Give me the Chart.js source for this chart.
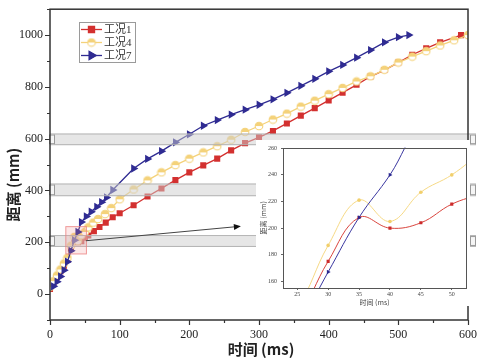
<!DOCTYPE html>
<html><head><meta charset="utf-8">
<script src="https://cdn.jsdelivr.net/npm/chart.js@4/dist/chart.umd.min.js"></script>
<style>
html,body{margin:0;padding:0;background:#fff;}
#wrap{position:relative;width:480px;height:360px;overflow:hidden;}
#main{position:absolute;left:0;top:0;}
#inset{position:absolute;left:256px;top:140px;}
</style></head><body>
<div id="wrap"><canvas id="main" width="480" height="360"></canvas><canvas id="inset" width="214" height="166"></canvas></div>
<script>
// ---------- data ----------
const seriesNames = ['工况1', '工况4', '工况7'];
const timeRed = [0,5,10,15,20,25,30,35,40,45,50,55,63,71,80,90,100,120,140,160,180,200,220,240,260,280,300,320,340,360,380,400,420,440,460,480,500,520,540,560,590];
const distRed = [20,42,65,88,110,132,175,208,200,204,218,226,243,259,276,297,312,343,377,408,440,470,497,523,555,583,605,630,659,689,718,748,778,808,840,865,894,924,949,972,1000];
const timeYellow = [0,5,10,15,20,25,30,35,40,45,50,55,62,69,79,88,100,120,140,160,180,200,220,240,260,280,300,320,340,360,380,400,420,440,460,480,500,520,540,560,580,600];
const distYellow = [28,50,72,95,118,140,187,221,205,227,240,258,276,290,309,332,366,404,439,470,498,523,547,571,596,626,649,674,697,724,747,772,796,821,841,866,894,917,938,960,980,1000];
const timeBlue = [5,10,15,20,25,30,35,40,45,52,59,67,74,81,90,120,140,160,180,200,220,240,260,280,300,320,340,360,380,400,420,440,460,480,500,515];
const distBlue = [30,48,68,92,125,167,208,240,278,300,318,337,355,373,402,485,522,552,586,617,650,672,693,712,731,752,777,804,831,860,885,913,942,972,992,1000];

const mainTimeTicks = [0,100,200,300,400,500,600];
const mainDistTicks = [0,200,400,600,800,1000];
const insetTimeTicks = [25,30,35,40,45,50];
const insetDistTicks = [160,180,200,220,240,260];
const mainTimeRange = [0, 600];
const mainDistRange = [-100, 1100];
const insetTimeRange = [22.7, 52.3];
const insetDistRange = [155, 260.5];
const bandRanges = [[182,228],[378,427],[575,620]];
const arrowFrom = {t:51.5, d:206};
const arrowTo = {t:274, d:262};

// ---------- styles ----------
const C = {red:'#d3302f', yellow:'#f4d27a', blue:'#2f2b92', text:'#222', axis:'#333'};
const numFont = '"Liberation Serif", "Noto Sans CJK SC", serif';

function toXY(ts, ds){ return ts.map((t,i)=>({x:t, y:ds[i]})); }
function filt(ts, ds, lo, hi){ return toXY(ts,ds).filter(p=>p.x>=lo && p.x<=hi); }

function makeHalfCircle(r, col){
  const c = document.createElement('canvas');
  const s = Math.ceil(r*2+2); c.width = s; c.height = s;
  const g = c.getContext('2d'); const cx = s/2, cy = s/2;
  g.fillStyle = '#fff'; g.beginPath(); g.arc(cx,cy,r,0,Math.PI*2); g.fill();
  g.fillStyle = col; g.beginPath(); g.arc(cx,cy,r,Math.PI,0); g.closePath(); g.fill();
  g.strokeStyle = col; g.lineWidth = 1.1; g.beginPath(); g.arc(cx,cy,r,0,Math.PI*2); g.stroke();
  return c;
}
const halfCircle = makeHalfCircle(3.8, C.yellow);

function setTicks(arr){ return s => { s.ticks = arr.map(v=>({value:v})); }; }
const plainLabel = v => String(v);

const decor = {
  id:'decor',
  afterDatasetsDraw(chart){
    const ctx = chart.ctx, a = chart.chartArea, xs = chart.scales.x, ys = chart.scales.y;
    ctx.save();
    // bands
    bandRanges.forEach(([lo,hi])=>{
      const y1 = ys.getPixelForValue(hi), y2 = ys.getPixelForValue(lo);
      ctx.fillStyle = 'rgba(205,205,205,0.5)';
      ctx.fillRect(a.left, y1, a.right + 8 - a.left, y2 - y1);
      ctx.strokeStyle = 'rgba(175,175,175,0.9)'; ctx.lineWidth = 1;
      ctx.beginPath(); ctx.moveTo(a.left, y1+0.5); ctx.lineTo(a.right+8, y1+0.5);
      ctx.moveTo(a.left, y2-0.5); ctx.lineTo(a.right+8, y2-0.5); ctx.stroke();
      ctx.fillStyle = 'rgba(245,245,245,1)'; ctx.strokeStyle = '#999';
      [a.left-1, a.right+2].forEach(x0=>{
        ctx.fillRect(x0, y1+1, 5, y2-y1-2); ctx.strokeRect(x0+0.5, y1+1.5, 5, y2-y1-3);
      });
    });
    // zoom rectangle
    const zx1 = xs.getPixelForValue(insetTimeRange[0]), zx2 = xs.getPixelForValue(insetTimeRange[1]);
    const zy1 = ys.getPixelForValue(insetDistRange[1]), zy2 = ys.getPixelForValue(insetDistRange[0]);
    ctx.fillStyle = 'rgba(240,150,150,0.22)'; ctx.fillRect(zx1, zy1, zx2-zx1, zy2-zy1);
    ctx.strokeStyle = 'rgba(236,130,130,0.8)'; ctx.lineWidth = 1; ctx.strokeRect(zx1, zy1, zx2-zx1, zy2-zy1);
    // arrow
    const ax1 = xs.getPixelForValue(arrowFrom.t), ay1 = ys.getPixelForValue(arrowFrom.d);
    const ax2 = xs.getPixelForValue(arrowTo.t), ay2 = ys.getPixelForValue(arrowTo.d);
    const ang = Math.atan2(ay2-ay1, ax2-ax1);
    ctx.strokeStyle = '#444'; ctx.lineWidth = 1;
    ctx.beginPath(); ctx.moveTo(ax1, ay1); ctx.lineTo(ax2 - 5*Math.cos(ang), ay2 - 5*Math.sin(ang)); ctx.stroke();
    ctx.fillStyle = '#111'; ctx.beginPath(); ctx.moveTo(ax2, ay2);
    ctx.lineTo(ax2 - 7*Math.cos(ang) + 3*Math.sin(ang), ay2 - 7*Math.sin(ang) - 3*Math.cos(ang));
    ctx.lineTo(ax2 - 7*Math.cos(ang) - 3*Math.sin(ang), ay2 - 7*Math.sin(ang) + 3*Math.cos(ang));
    ctx.closePath(); ctx.fill();
    // frame
    ctx.strokeStyle = C.axis; ctx.lineWidth = 1.5;
    ctx.strokeRect(a.left, a.top, a.right - a.left, a.bottom - a.top);
    // ticks
    ctx.lineWidth = 1.2; ctx.beginPath();
    for (let v = mainTimeRange[0]; v <= mainTimeRange[1]; v += 50){
      const x = Math.round(xs.getPixelForValue(v)) + 0.5;
      const len = mainTimeTicks.includes(v) ? 5 : 3;
      ctx.moveTo(x, a.bottom); ctx.lineTo(x, a.bottom + len);
    }
    for (let v = mainDistRange[0]; v <= mainDistRange[1]; v += 100){
      const y = Math.round(ys.getPixelForValue(v)) + 0.5;
      const len = mainDistTicks.includes(v) ? 5 : 3;
      ctx.moveTo(a.left, y); ctx.lineTo(a.left - len, y);
    }
    ctx.stroke();
    ctx.restore();
  },
  afterDraw(chart){
    const ctx = chart.ctx, a = chart.chartArea;
    ctx.save();
    // axis titles
    ctx.fillStyle = C.text; ctx.textAlign = 'center'; ctx.textBaseline = 'middle';
    ctx.font = 'bold 15px "Noto Sans CJK SC", "Liberation Serif", serif';
    ctx.fillText('时间 (ms)', (a.left + a.right)/2 + 2, 349);
    ctx.translate(13, (a.top + a.bottom)/2 + 20); ctx.rotate(-Math.PI/2);
    ctx.fillText('距离 (mm)', 0, 0);
    ctx.restore();
    // legend
    ctx.save();
    const lx = 79, ly = 22, lw = 56, lh = 40;
    ctx.fillStyle = '#fff'; ctx.fillRect(lx, ly, lw, lh);
    ctx.strokeStyle = '#9a9a9a'; ctx.lineWidth = 1; ctx.strokeRect(lx+0.5, ly+0.5, lw, lh);
    const ds = chart.data.datasets;
    ctx.font = '11px ' + numFont; ctx.textBaseline = 'middle'; ctx.textAlign = 'left';
    ds.forEach((d, i)=>{
      const y = ly + 7.5 + i*13;
      ctx.strokeStyle = d.borderColor; ctx.lineWidth = 1.3;
      ctx.beginPath(); ctx.moveTo(lx+2, y); ctx.lineTo(lx+23, y); ctx.stroke();
      Chart.helpers.drawPoint(ctx, {pointStyle: d.pointStyle, rotation: d.pointRotation || 0, radius: d.pointRadius, borderWidth: 1}, lx+12.5, y);
      if (typeof d.pointStyle === 'string'){ ctx.fillStyle = d.backgroundColor; ctx.fill(); }
      ctx.fillStyle = '#333';
      ctx.fillText(seriesNames[i], lx+25, y+0.5);
    });
    ctx.restore();
  }
};

const mainChart = new Chart(document.getElementById('main'), {
  type: 'line',
  data: { datasets: [
    {label: seriesNames[0], data: toXY(timeRed, distRed), borderColor: C.red, backgroundColor: C.red,
     pointStyle: 'rect', pointRadius: 4.3, pointBorderWidth: 0, borderWidth: 1.3, tension: 0, order: 3},
    {label: seriesNames[1], data: toXY(timeYellow, distYellow), borderColor: C.yellow, backgroundColor: C.yellow,
     pointStyle: halfCircle, pointRadius: 3.8, borderWidth: 1.3, tension: 0, order: 2},
    {label: seriesNames[2], data: toXY(timeBlue, distBlue), borderColor: C.blue, backgroundColor: C.blue,
     pointStyle: 'triangle', pointRotation: 90, pointRadius: 4.8, pointBorderWidth: 0, borderWidth: 1.3, tension: 0, order: 1}
  ]},
  options: {
    responsive: false, animation: false, devicePixelRatio: 1,
    layout: {padding: {left: 0, top: 4, right: 10, bottom: 0}},
    plugins: {legend: {display: false}, tooltip: {enabled: false}},
    scales: {
      x: {type: 'linear', min: mainTimeRange[0], max: mainTimeRange[1],
          afterBuildTicks: setTicks(mainTimeTicks),
          afterFit: s => { s.height = 40; },
          ticks: {font: {family: numFont, size: 12}, color: C.text, maxRotation: 0, autoSkip: false, padding: 3, callback: plainLabel},
          grid: {drawOnChartArea: false, drawTicks: true, tickLength: 5, color: 'rgba(0,0,0,0)'},
          border: {display: false}},
      y: {type: 'linear', min: mainDistRange[0], max: mainDistRange[1],
          afterBuildTicks: setTicks(mainDistTicks),
          afterFit: s => { s.width = 50; },
          ticks: {font: {family: numFont, size: 12}, color: C.text, autoSkip: false, padding: 2, callback: plainLabel},
          grid: {drawOnChartArea: false, drawTicks: true, tickLength: 5, color: 'rgba(0,0,0,0)'},
          border: {display: false}}
    }
  },
  plugins: [decor]
});

// ---------- inset ----------
const insetDecor = {
  id: 'insetDecor',
  beforeDraw(chart){
    const ctx = chart.ctx; ctx.save(); ctx.fillStyle = '#fff'; ctx.fillRect(0, 0, chart.width, chart.height); ctx.restore();
  },
  afterDraw(chart){
    const ctx = chart.ctx, a = chart.chartArea;
    ctx.save();
    ctx.strokeStyle = '#555'; ctx.lineWidth = 1;
    ctx.strokeRect(Math.round(a.left)+0.5, Math.round(a.top)+0.5, Math.round(a.right-a.left), Math.round(a.bottom-a.top));
    ctx.fillStyle = '#444'; ctx.textAlign = 'center'; ctx.textBaseline = 'middle';
    ctx.font = '7px "Noto Sans CJK SC", "Liberation Serif", serif';
    ctx.fillText('时间 (ms)', (a.left + a.right)/2, 162);
    ctx.translate(7, (a.top + a.bottom)/2); ctx.rotate(-Math.PI/2);
    ctx.fillText('距离 (mm)', 0, 0);
    ctx.restore();
  }
};
const insetFont = {family: numFont, size: 6};
const insetChart = new Chart(document.getElementById('inset'), {
  type: 'line',
  data: { datasets: [
    {data: filt(timeRed, distRed, 15, 60), borderColor: '#d9453e', backgroundColor: '#cc2a2a',
     pointStyle: 'rect', pointRadius: 2.2, pointBorderWidth: 0, borderWidth: 1, tension: 0.4, order: 3, clip: 0},
    {data: filt(timeYellow, distYellow, 15, 60), borderColor: '#f6d985', backgroundColor: '#f1cf6c',
     pointStyle: 'circle', pointRadius: 1.8, pointBorderWidth: 0, borderWidth: 1, tension: 0.4, order: 2, clip: 0},
    {data: filt(timeBlue, distBlue, 15, 60), borderColor: '#3a37a0', backgroundColor: '#2a2790',
     pointStyle: 'triangle', pointRotation: 90, pointRadius: 2.5, pointBorderWidth: 0, borderWidth: 1, tension: 0.4, order: 1, clip: 0}
  ]},
  options: {
    responsive: false, animation: false, devicePixelRatio: 1,
    layout: {padding: {left: 0, top: 5.5, right: 1, bottom: 0}},
    plugins: {legend: {display: false}, tooltip: {enabled: false}},
    scales: {
      x: {type: 'linear', min: insetTimeRange[0], max: insetTimeRange[1],
          afterBuildTicks: setTicks(insetTimeTicks),
          afterFit: s => { s.height = 18; },
          ticks: {font: insetFont, color: '#444', maxRotation: 0, autoSkip: false, padding: 1, callback: plainLabel},
          grid: {drawOnChartArea: false, drawTicks: true, tickLength: 2, color: '#666'},
          border: {display: false}},
      y: {type: 'linear', min: insetDistRange[0], max: insetDistRange[1],
          afterBuildTicks: setTicks(insetDistTicks),
          afterFit: s => { s.width = 27; },
          ticks: {font: insetFont, color: '#444', autoSkip: false, padding: 4, callback: plainLabel},
          grid: {drawOnChartArea: false, drawTicks: true, tickLength: 2, color: '#666'},
          border: {display: false}}
    }
  },
  plugins: [insetDecor]
});
</script>
</body></html>
